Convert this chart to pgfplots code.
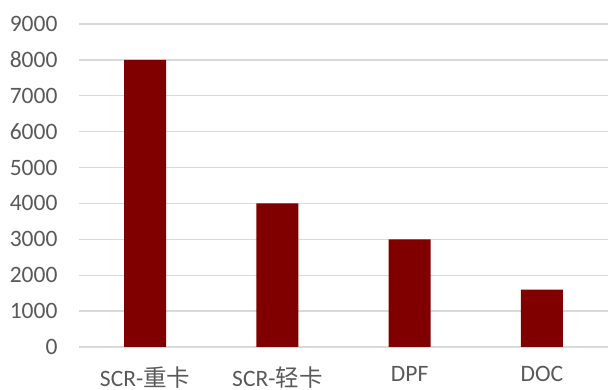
\documentclass[border=0pt]{standalone}
\usepackage{fontspec}
\setmainfont{Carlito}
\newfontfamily\cjk{Noto Sans CJK SC}
\usepackage{pgfplots}
\pgfplotsset{compat=1.18}
\definecolor{barred}{HTML}{800000}
\definecolor{labelgray}{HTML}{595959}
\definecolor{gridgray}{HTML}{D9D9D9}
\begin{document}
\begin{tikzpicture}
\path[use as bounding box] (0,0) rectangle (608pt,390pt);
\begin{axis}[
  at={(79pt,43pt)}, anchor=south west,
  scale only axis,
  width=529pt, height=323pt,
  xmin=-0.5, xmax=3.5,
  ymin=0, ymax=9000,
  ytick={0,1000,...,9000},
  xtick={0,1,2,3},
  xticklabels={SCR-{\cjk 重卡}, SCR-{\cjk 轻卡}, DPF, DOC},
  axis line style={draw=none},
  axis x line*=bottom,
  axis y line*=left,
  major tick length=0pt,
  ymajorgrids,
  grid style={gridgray, line width=1.4pt},
  tick label style={font=\fontsize{23.5}{28}\selectfont, text=labelgray},
  yticklabel style={xshift=-18pt},
  xticklabel style={yshift=-16pt},
  /pgf/number format/assume math mode=true,
  /pgf/number format/1000 sep={},
  scaled y ticks=false,
  clip=false,
]
% one bar per after-treatment category
\addplot[ybar, bar width=42pt, fill=barred, draw=none] coordinates {
  (0,8000) (1,4000) (2,3000) (3,1600)
};
\end{axis}
\end{tikzpicture}
\end{document}
